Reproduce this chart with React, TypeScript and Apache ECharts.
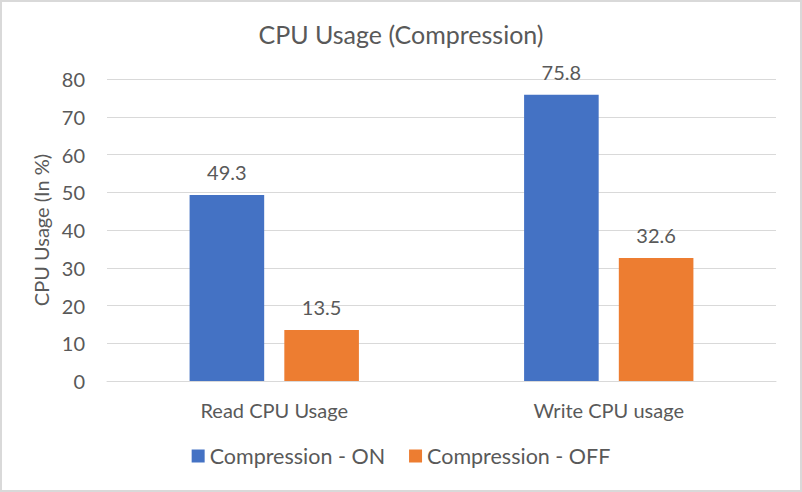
import React, { useEffect, useRef } from "react";
import * as echarts from "echarts";

const categories = ["Read CPU Usage", "Write CPU usage"];
const compressionOn = [49.3, 75.8];
const compressionOff = [13.5, 32.6];
const seriesNames = ["Compression - ON", "Compression - OFF"];

const FONT = "Lato, 'Open Sans', sans-serif";
const TXT = "#595959";
const FS = 20;

export default function App() {
  const ref = useRef<HTMLDivElement>(null);
  useEffect(() => {
    document.body.style.margin = "0";
    const chart = echarts.init(ref.current!, null, { renderer: "svg" });
    chart.setOption({
      animation: false,
      backgroundColor: "#fff",
      textStyle: { fontFamily: FONT, color: TXT },
      title: {
        text: "CPU Usage (Compression)",
        left: "center",
        top: 14,
        textStyle: { fontFamily: FONT, fontSize: 25, fontWeight: "normal", color: TXT },
      },
      legend: {
        bottom: 18,
        left: "center",
        itemWidth: 13,
        itemHeight: 13,
        itemGap: 24,
        itemTextGap: 6,
        icon: "rect",
        textStyle: { fontFamily: FONT, fontSize: 21.5, color: TXT },
        data: seriesNames,
      },
      grid: { left: 105, right: 24, top: 77, bottom: 109 },
      xAxis: {
        type: "category",
        data: categories,
        axisLine: { lineStyle: { color: "#d9d9d9" } },
        axisTick: { show: false },
        axisLabel: { fontFamily: FONT, fontSize: FS, color: TXT, margin: 19 },
      },
      yAxis: {
        type: "value",
        min: 0,
        max: 80,
        interval: 10,
        name: "CPU Usage (In %)",
        nameLocation: "middle",
        nameGap: 56,
        nameTextStyle: { fontFamily: FONT, fontSize: FS, color: TXT },
        axisLine: { show: false },
        axisTick: { show: false },
        axisLabel: { fontFamily: FONT, fontSize: FS, color: TXT, margin: 22 },
        splitLine: { lineStyle: { color: "#d9d9d9" } },
      },
      series: [
        {
          name: seriesNames[0],
          type: "bar",
          data: compressionOn,
          barWidth: "22.3%",
          barGap: "27%",
          itemStyle: { color: "#4472C4" },
          label: { show: true, position: "top", distance: 13, fontFamily: FONT, fontSize: FS, color: TXT },
        },
        {
          name: seriesNames[1],
          type: "bar",
          data: compressionOff,
          barWidth: "22.3%",
          barGap: "27%",
          itemStyle: { color: "#ED7D31" },
          label: { show: true, position: "top", distance: 13, fontFamily: FONT, fontSize: FS, color: TXT },
        },
      ],
    });
    return () => chart.dispose();
  }, []);
  return (
    <div
      ref={ref}
      style={{ width: 802, height: 492, boxSizing: "border-box", border: "2px solid #d9d9d9" }}
    />
  );
}
